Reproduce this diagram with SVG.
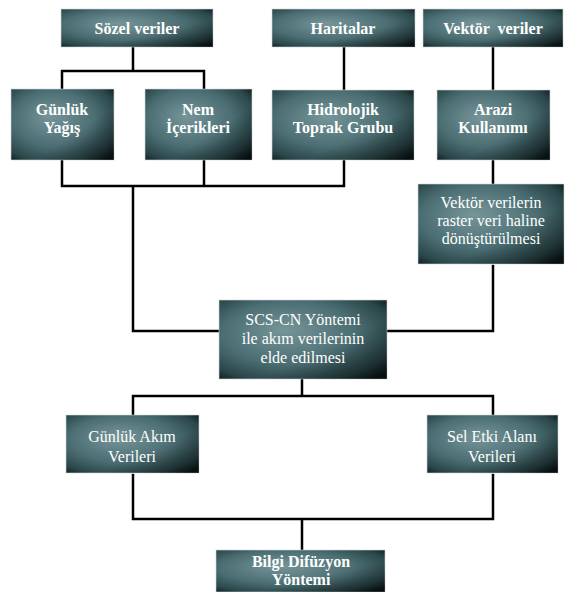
<svg xmlns="http://www.w3.org/2000/svg" width="565" height="592" viewBox="0 0 565 592">
<defs>
<radialGradient id="bg" cx="0.45" cy="0.45" r="0.72" fx="0.38" fy="0.38">
<stop offset="0" stop-color="#769599"/>
<stop offset="0.55" stop-color="#4b6e73"/>
<stop offset="0.85" stop-color="#2a4649"/>
<stop offset="1" stop-color="#0e1c1e"/>
</radialGradient>
<linearGradient id="sh" x1="0" y1="0" x2="1" y2="1">
<stop offset="0.62" stop-color="#000" stop-opacity="0"/>
<stop offset="1" stop-color="#000" stop-opacity="0.5"/>
</linearGradient>
</defs>
<style>
.box{fill:url(#bg);stroke:#cfd6d6;stroke-width:0.6}
.shade{fill:url(#sh)}
.t{font-family:"Liberation Serif","DejaVu Serif",serif;font-size:16px;fill:#ffffff;text-anchor:middle}
.b{font-weight:bold}
.c{fill:none;stroke:#000;stroke-width:2.5;stroke-linecap:square;stroke-linejoin:miter}
</style>
<rect width="565" height="592" fill="#fff"/>
<g id="connectors">
<path class="c" d="M133 47V71M62 71H204M62 71V89M204 71V89"/>
<path class="c" d="M344 47V90"/>
<path class="c" d="M493 47V90"/>
<path class="c" d="M62 160V186M204 160V186M344 160V186M62 186H344M133 186V331H219"/>
<path class="c" d="M493 160V183"/>
<path class="c" d="M493 266V331H387"/>
<path class="c" d="M302 379V396M133 396H493M133 396V415M493 396V415"/>
<path class="c" d="M133 475V519H493V475M302 519V550"/>
</g>
<g id="sozel"><rect class="box" x="61" y="9" width="152" height="38"/><rect class="shade" x="61" y="9" width="152" height="38"/><text class="t b" x="137" y="34">Sözel veriler</text></g>
<g id="haritalar"><rect class="box" x="272" y="9" width="143" height="38"/><rect class="shade" x="272" y="9" width="143" height="38"/><text class="t b" x="343" y="34">Haritalar</text></g>
<g id="vektor"><rect class="box" x="423" y="9" width="140" height="38"/><rect class="shade" x="423" y="9" width="140" height="38"/><text class="t b" x="493" y="34" xml:space="preserve">Vektör  veriler</text></g>
<g id="gunluk-yagis"><rect class="box" x="11" y="89" width="103" height="71"/><rect class="shade" x="11" y="89" width="103" height="71"/><text class="t b" x="62" y="115">Günlük</text><text class="t b" x="62" y="133">Yağış</text></g>
<g id="nem"><rect class="box" x="145" y="89" width="107" height="71"/><rect class="shade" x="145" y="89" width="107" height="71"/><text class="t b" x="198" y="115">Nem</text><text class="t b" x="198" y="133">İçerikleri</text></g>
<g id="hidrolojik"><rect class="box" x="272" y="90" width="142" height="70"/><rect class="shade" x="272" y="90" width="142" height="70"/><text class="t b" x="343" y="115">Hidrolojik</text><text class="t b" x="343" y="133">Toprak Grubu</text></g>
<g id="arazi"><rect class="box" x="437" y="90" width="113" height="70"/><rect class="shade" x="437" y="90" width="113" height="70"/><text class="t b" x="493" y="115">Arazi</text><text class="t b" x="493" y="133">Kullanımı</text></g>
<g id="donusturme"><rect class="box" x="418" y="184" width="146" height="80"/><rect class="shade" x="418" y="184" width="146" height="80"/><text class="t" x="491" y="208">Vektör verilerin</text><text class="t" x="491" y="226">raster veri haline</text><text class="t" x="491" y="244">dönüştürülmesi</text></g>
<g id="scs"><rect class="box" x="219" y="300" width="168" height="79"/><rect class="shade" x="219" y="300" width="168" height="79"/><text class="t" x="303" y="325">SCS-CN Yöntemi</text><text class="t" x="303" y="344">ile akım verilerinin</text><text class="t" x="303" y="363">elde edilmesi</text></g>
<g id="gunluk-akim"><rect class="box" x="66" y="415" width="133" height="58"/><rect class="shade" x="66" y="415" width="133" height="58"/><text class="t" x="132" y="442">Günlük Akım</text><text class="t" x="132" y="462">Verileri</text></g>
<g id="sel"><rect class="box" x="427" y="415" width="131" height="58"/><rect class="shade" x="427" y="415" width="131" height="58"/><text class="t" x="492" y="442">Sel Etki Alanı</text><text class="t" x="492" y="462">Verileri</text></g>
<g id="bilgi"><rect class="box" x="216" y="550" width="169" height="42"/><rect class="shade" x="216" y="550" width="169" height="42"/><text class="t b" x="301" y="567">Bilgi Difüzyon</text><text class="t b" x="301" y="585">Yöntemi</text></g>
</svg>
